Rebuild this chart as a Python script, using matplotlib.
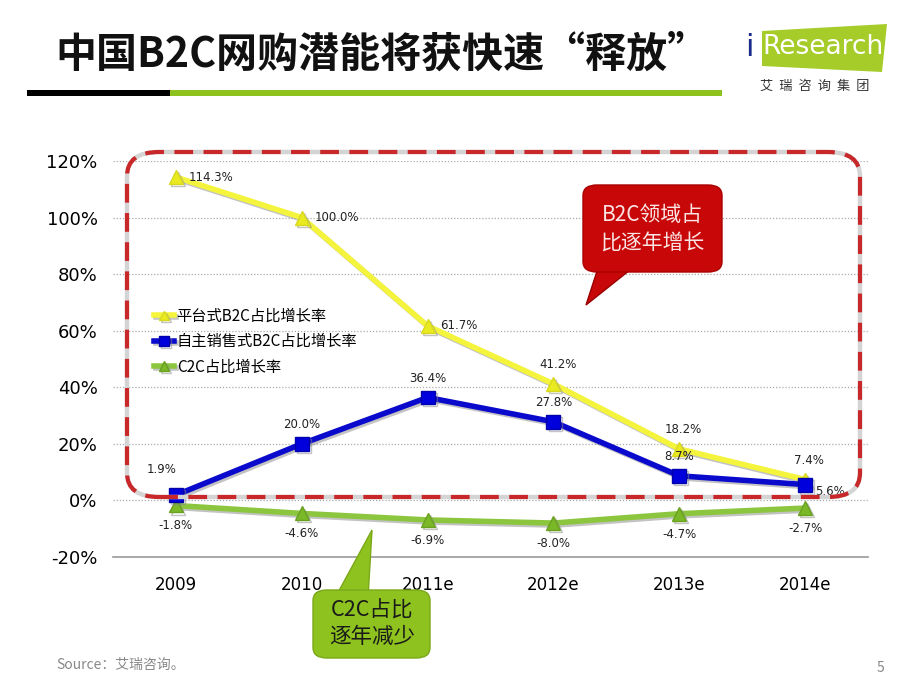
import numpy as np
import matplotlib
matplotlib.use("Agg")
from matplotlib import pyplot as plt
from matplotlib.patches import FancyBboxPatch, Polygon, Rectangle
import matplotlib.patheffects as pe

plt.rcParams['font.family'] = ['Noto Sans CJK SC', 'DejaVu Sans']

# 数据
years = ['2009', '2010', '2011e', '2012e', '2013e', '2014e']
platform_b2c = [114.3, 100.0, 61.7, 41.2, 18.2, 7.4]
self_b2c = [1.9, 20.0, 36.4, 27.8, 8.7, 5.6]
c2c = [-1.8, -4.6, -6.9, -8.0, -4.7, -2.7]
labels = ['平台式B2C占比增长率', '自主销售式B2C占比增长率', 'C2C占比增长率']
y_ticks = [-20, 0, 20, 40, 60, 80, 100, 120]

W, H = 920, 690
fig = plt.figure(figsize=(9.2, 6.9), dpi=100)


def fx(px):
    return px / W


def fy(py):
    return 1 - py / H


ax = fig.add_axes([fx(113), fy(557), fx(868) - fx(113), fy(161) - fy(557)])
x = np.arange(len(years))

shadow = [pe.SimpleLineShadow(offset=(1.5, -1.5), shadow_color='#888888', alpha=0.5), pe.Normal()]
ax.plot(x, platform_b2c, color='#f4f43c', lw=4, marker='^', ms=10, mfc='#eaea20', mec='#d8d820',
        label=labels[0], zorder=5, path_effects=shadow)
ax.plot(x, self_b2c, color='#0a0acc', lw=4, marker='s', ms=10, mfc='#0000dd', mec='#0000aa',
        label=labels[1], zorder=6, path_effects=shadow)
ax.plot(x, c2c, color='#8cc63f', lw=4, marker='^', ms=10, mfc='#7ab828', mec='#6aa020',
        label=labels[2], zorder=4, path_effects=shadow)

ax.set_xlim(-0.5, len(years) - 0.5)
ax.set_ylim(-20, 120)
ax.set_yticks(y_ticks)
ax.set_yticklabels([f'{v}%' for v in y_ticks], fontsize=13, family=['DejaVu Sans'])
ax.set_xticks(x)
ax.set_xticklabels(years, fontsize=12, family=['DejaVu Sans'])
ax.tick_params(length=0, pad=14, axis='x')
ax.tick_params(length=0, pad=11, axis='y')
for s in ['top', 'left', 'right']:
    ax.spines[s].set_visible(False)
ax.spines['bottom'].set_color('#999999')
ax.spines['bottom'].set_linewidth(1.2)
for v in y_ticks[1:]:
    ax.axhline(v, color='#aaaaaa', lw=0.9, ls=(0, (1, 1.5)), zorder=1)

# 数据标签
lab_kw = dict(fontsize=8.5, color='#222222', family=['DejaVu Sans'], zorder=8)
for i, v in enumerate(platform_b2c):
    if i < 3:
        ax.annotate(f'{v:.1f}%', (i, v), xytext=(9, 0), textcoords='offset points',
                    ha='left', va='center', **lab_kw)
    else:
        ax.annotate(f'{v:.1f}%', (i, v), xytext=(3, 9), textcoords='offset points',
                    ha='center', va='bottom', **lab_kw)
for i, v in enumerate(self_b2c):
    if i == 0:
        ax.annotate(f'{v:.1f}%', (i, v), xytext=(-10, 14), textcoords='offset points',
                    ha='center', va='bottom', **lab_kw)
    elif i == len(self_b2c) - 1:
        ax.annotate(f'{v:.1f}%', (i, v), xytext=(7, -5), textcoords='offset points',
                    ha='left', va='center', **lab_kw)
    else:
        ax.annotate(f'{v:.1f}%', (i, v), xytext=(0, 9), textcoords='offset points',
                    ha='center', va='bottom', **lab_kw)
for i, v in enumerate(c2c):
    ax.annotate(f'{v:.1f}%', (i, v), xytext=(0, -10), textcoords='offset points',
                ha='center', va='top', **lab_kw)

leg = ax.legend(loc='upper left', bbox_to_anchor=(fx(140), fy(294)), bbox_transform=fig.transFigure,
                frameon=False, fontsize=11, handlelength=1.3, handletextpad=0.2,
                labelspacing=0.55, markerscale=0.7)

# 红色虚线圆角框
for col, ls, lw in [('#d4d4d4', '-', 3.2), ('#c8282a', (0, (4.5, 2.5)), 3)]:
    box = FancyBboxPatch((fx(127), fy(497)), fx(860) - fx(127), fy(152) - fy(497),
                         boxstyle='round,pad=0,rounding_size=0.035', transform=fig.transFigure,
                         fill=False, edgecolor=col, lw=lw, ls=ls, zorder=3)
    fig.patches.append(box)

# 红色气泡
fig.patches.append(Polygon([(fx(600), fy(262)), (fx(640), fy(262)), (fx(586), fy(305))],
                           closed=True, transform=fig.transFigure, facecolor='#c80808',
                           edgecolor='#990000', lw=1, zorder=9))
fig.patches.append(FancyBboxPatch((fx(583), fy(272)), fx(722) - fx(583), fy(185) - fy(272),
                                  boxstyle='round,pad=0,rounding_size=0.015', transform=fig.transFigure,
                                  facecolor='#c80808', edgecolor='#aa0000', lw=1, zorder=10))
fig.text(fx(652), fy(229), 'B2C领域占\n比逐年增长', color='#fbe4e4', fontsize=15,
         ha='center', va='center', linespacing=1.3, zorder=11)

# 绿色气泡
fig.patches.append(Polygon([(fx(335), fy(598)), (fx(368), fy(598)), (fx(372), fy(530))],
                           closed=True, transform=fig.transFigure, facecolor='#8dc21f',
                           edgecolor='#7aa818', lw=1, zorder=9))
fig.patches.append(FancyBboxPatch((fx(313), fy(658)), fx(430) - fx(313), fy(590) - fy(658),
                                  boxstyle='round,pad=0,rounding_size=0.015', transform=fig.transFigure,
                                  facecolor='#8dc21f', edgecolor='#7aa818', lw=1, zorder=10))
fig.text(fx(372), fy(624), 'C2C占比\n逐年减少', color='#1a1a1a', fontsize=15.5, fontweight='medium',
         ha='center', va='center', linespacing=1.25, zorder=11)

# 标题
fig.text(fx(55), fy(55), '中国B2C网购潜能将获快速“释放”', fontsize=29.5, fontweight='bold',
         color='#111111', ha='left', va='center')
fig.patches.append(Rectangle((fx(27), fy(96)), fx(170) - fx(27), 6 / H, transform=fig.transFigure,
                             facecolor='black', edgecolor='none'))
fig.patches.append(Rectangle((fx(170), fy(96)), fx(722) - fx(170), 6 / H, transform=fig.transFigure,
                             facecolor='#8dc21f', edgecolor='none'))

# iResearch 标志
fig.patches.append(Polygon([(fx(762), fy(31)), (fx(887), fy(24)), (fx(882), fy(72)), (fx(762), fy(66))],
                           closed=True, transform=fig.transFigure, facecolor='#a6cc2a', edgecolor='none'))
fig.text(fx(745), fy(47), 'i', fontsize=22, color='#1a2a8a', ha='left', va='center',
         family=['DejaVu Sans'])
fig.text(fx(762), fy(47), 'Research', fontsize=19, color='white', ha='left', va='center',
         family=['DejaVu Sans'])
fig.text(fx(815), fy(86), '艾  瑞  咨  询  集  团', fontsize=9.5, color='#333333', ha='center', va='center')

# 来源
fig.text(fx(56), fy(665), 'Source：艾瑞咨询。', fontsize=10, color='#888888', ha='left', va='center')
fig.text(fx(880), fy(668), '5', fontsize=10, color='#888888', ha='center', va='center')

fig.savefig('out.png', dpi=100)
